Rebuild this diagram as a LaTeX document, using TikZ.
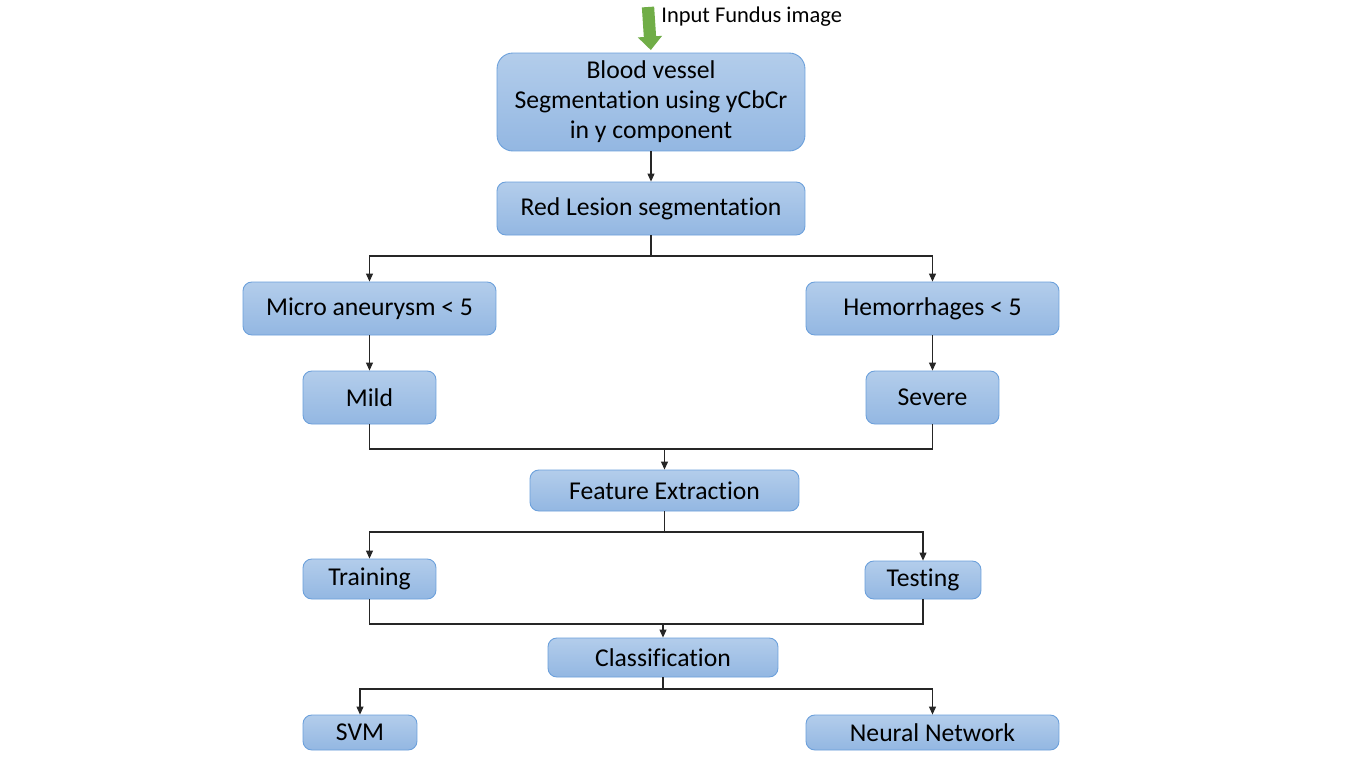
\documentclass[tikz,border=0pt]{standalone}
\usepackage{fontspec}
\setmainfont{Carlito}[Ligatures=NoCommon]
\usetikzlibrary{arrows.meta}
\definecolor{boxtop}{HTML}{B3CDEB}
\definecolor{boxbot}{HTML}{93B7E2}
\definecolor{boxline}{HTML}{6A9FDB}
\definecolor{inputgreen}{HTML}{70AD47}
\tikzset{
	box/.style={draw=boxline, line width=0.5pt, top color=boxtop, bottom color=boxbot, rounded corners=5pt, align=center, inner sep=0pt, font=\fontsize{14.6}{17}\selectfont},
	wire/.style={line width=0.6pt, color=black!85},
	flow/.style={wire, -{Triangle[length=1.6mm, width=1.4mm]}}
}
\begin{document}
\begin{tikzpicture}[x=0.02cm, y=-0.02cm]
			%%%%% START %%%%%
			
			\fill[white] (0, 0) rectangle (1366, 768);
			\useasboundingbox (0, 0) rectangle (1366, 768);
			
			\node[box, rounded corners=9pt, minimum width=6.16cm, minimum height=1.96cm] (blood) at (651, 102) {Blood vessel\\Segmentation using yCbCr\\in y component};
			\node[box, minimum width=6.16cm, minimum height=1.06cm] (lesion) at (651, 208.5) {Red Lesion segmentation};
			
			\node[box, minimum width=5.06cm, minimum height=1.06cm] (micro) at (369.5, 308.5) {Micro aneurysm < 5};
			\node[box, minimum width=5.06cm, minimum height=1.06cm] (hemo) at (932.5, 308.5) {Hemorrhages < 5};
			\node[box, minimum width=2.66cm, minimum height=1.06cm] (mild) at (369.5, 397.5) {Mild};
			\node[box, minimum width=2.66cm, minimum height=1.06cm] (severe) at (932.5, 397.5) {Severe};
			
			\node[box, minimum width=5.38cm, minimum height=0.82cm] (feature) at (664.5, 490.5) {Feature Extraction};
			\node[box, minimum width=2.66cm, minimum height=0.8cm] (train) at (369.5, 579) {Training};
			\node[box, minimum width=2.32cm, minimum height=0.76cm] (test) at (923, 580) {Testing};
			
			\node[box, minimum width=4.6cm, minimum height=0.78cm] (class) at (663, 657.5) {Classification};
			\node[box, minimum width=2.28cm, minimum height=0.7cm] (svm) at (360, 732.5) {SVM};
			\node[box, minimum width=5.06cm, minimum height=0.7cm] (neural) at (932.5, 732.5) {Neural Network};
			
			% input arrow
			\coordinate (inputtop) at (648, 7);
			\draw[line width=7pt, color=inputgreen, -{Triangle[length=0.27cm, width=0.47cm]}, shorten >=0.05cm] (inputtop) -- (blood.north);
			\node[anchor=west, inner sep=0pt, font=\fontsize{12.8}{15}\selectfont] (input) at (661, 17) {Input Fundus image};
			
			% junctions
			\coordinate (jlesion) at (651, 256);
			\coordinate (jgrade) at (664.5, 449);
			\coordinate (jfeature) at (664.5, 532);
			\coordinate (jsplit) at (663, 624);
			\coordinate (jclass) at (663, 689);
			
			\draw[flow] (blood) -- (lesion);
			\draw[wire] (lesion) -- (jlesion);
			\draw[flow] (jlesion) -| (micro.north);
			\draw[flow] (jlesion) -| (hemo.north);
			\draw[flow] (micro) -- (mild);
			\draw[flow] (hemo) -- (severe);
			
			\draw[wire] (mild.south) |- (jgrade) -| (severe.south);
			\draw[flow] (jgrade) -- (feature.north);
			
			\draw[wire] (feature.south) -- (jfeature);
			\draw[flow] (jfeature) -| (train.north);
			\draw[flow] (jfeature) -| (test.north);
			
			\draw[wire] (train.south) |- (jsplit) -| (test.south);
			\draw[flow] (jsplit) -- (class.north);
			
			\draw[wire] (class.south) -- (jclass);
			\draw[flow] (jclass) -| (svm.north);
			\draw[flow] (jclass) -| (neural.north);
			
			%%%%% END %%%%%
		\end{tikzpicture}
\end{document}
